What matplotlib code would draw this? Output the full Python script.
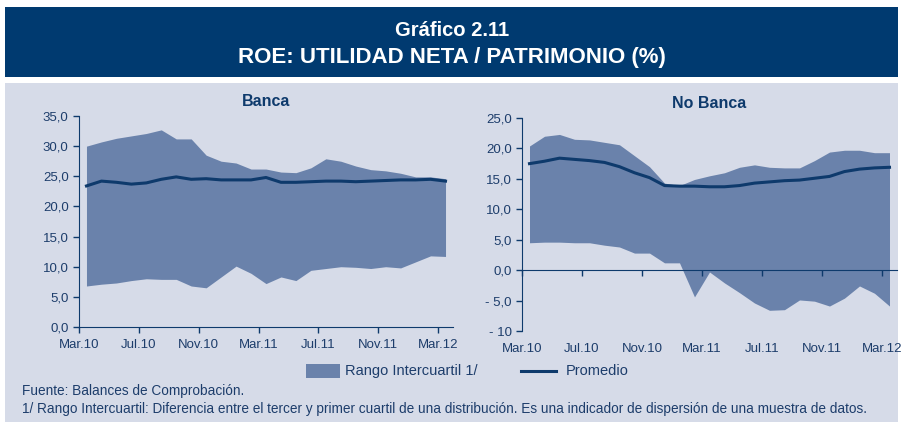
import matplotlib

matplotlib.use("Agg")
import matplotlib.pyplot as plt
from matplotlib.patches import Rectangle
from matplotlib.lines import Line2D
from matplotlib.transforms import ScaledTranslation
import numpy as np

plt.rcParams["font.family"] = ["Liberation Sans", "DejaVu Sans"]

NAVY = "#003a70"
LINE = "#0e3a6c"
FILL = "#6a82ab"
PANEL = "#d6dbe8"
TXT = "#1d3d6b"

XTICK_LABELS = ["Mar.10", "Jul.10", "Nov.10", "Mar.11", "Jul.11", "Nov.11", "Mar.12"]

# Banca (mar.10 - mar.12, mensual)
banca_q3 = [30.0, 30.7, 31.3, 31.7, 32.1, 32.7, 31.2, 31.2, 28.5, 27.5, 27.2, 26.2, 26.2,
            25.7, 25.6, 26.4, 27.9, 27.5, 26.7, 26.1, 25.9, 25.5, 24.9, 24.9, 24.6]
banca_q1 = [6.8, 7.1, 7.3, 7.7, 8.0, 7.9, 7.9, 6.8, 6.5, 8.3, 10.1, 8.9, 7.2,
            8.3, 7.7, 9.4, 9.7, 10.0, 9.9, 9.7, 10.0, 9.8, 10.8, 11.8, 11.7]
banca_prom = [23.4, 24.2, 24.0, 23.7, 23.9, 24.5, 24.9, 24.5, 24.6, 24.4, 24.4, 24.4, 24.8,
              24.0, 24.0, 24.1, 24.2, 24.2, 24.1, 24.2, 24.3, 24.4, 24.4, 24.5, 24.2]

# No Banca
nob_q3 = [20.4, 22.0, 22.3, 21.5, 21.4, 21.0, 20.6, 18.8, 17.0, 14.3, 13.9, 14.9, 15.5,
          16.0, 16.9, 17.3, 16.9, 16.8, 16.8, 18.0, 19.4, 19.7, 19.7, 19.3, 19.3]
nob_q1 = [4.5, 4.6, 4.6, 4.5, 4.5, 4.1, 3.8, 2.8, 2.8, 1.2, 1.2, -4.4, -0.3,
          -2.1, -3.7, -5.4, -6.6, -6.5, -4.9, -5.1, -5.9, -4.6, -2.6, -3.8, -5.9]
nob_prom = [17.5, 17.9, 18.4, 18.2, 18.0, 17.7, 17.0, 16.0, 15.2, 13.9, 13.8, 13.8, 13.7,
            13.7, 13.9, 14.3, 14.5, 14.7, 14.8, 15.1, 15.4, 16.2, 16.6, 16.8, 16.9]

W, H = 904, 422
fig = plt.figure(figsize=(W / 100, H / 100), dpi=100)
fig.patch.set_facecolor("white")


def box(x0, y0, x1, y1):
    """pixel coords (top-left origin) -> figure fraction rect"""
    return [x0 / W, 1 - y1 / H, (x1 - x0) / W, (y1 - y0) / H]


# banner + panel
fig.add_artist(Rectangle((5 / W, 1 - 77 / H), 893 / W, 70 / H, transform=fig.transFigure,
                         facecolor=NAVY, edgecolor="none", zorder=0))
fig.add_artist(Rectangle((5 / W, 0), 893 / W, 1 - 83 / H, transform=fig.transFigure,
                         facecolor=PANEL, edgecolor="none", zorder=0))
fig.text(452 / W, 1 - 30 / H, "Gráfico 2.11", color="white", fontsize=14.5, fontweight="bold",
         ha="center", va="center")
fig.text(452 / W, 1 - 57 / H, "ROE: UTILIDAD NETA / PATRIMONIO (%)", color="white", fontsize=16,
         fontweight="bold", ha="center", va="center")


def panel(rect, title, q3, q1, prom, ylim, yticks, yticklabels, zero_axis=False):
    ax = fig.add_axes(rect)
    ax.set_facecolor("none")
    x = np.arange(len(prom)) + 0.5
    ax.fill_between(x, q1, q3, color=FILL, linewidth=0, zorder=1)
    ax.plot(x, prom, color=LINE, linewidth=2.2, zorder=3)
    ax.set_xlim(0, 25)
    ax.set_ylim(*ylim)
    for s in ("top", "right"):
        ax.spines[s].set_visible(False)
    ax.spines["left"].set_color(LINE)
    ax.spines["bottom"].set_color(LINE)
    if zero_axis:
        ax.spines["bottom"].set_position(("data", 0))
    ax.set_xticks(np.arange(0, 25, 4))
    ax.set_xticklabels(XTICK_LABELS)
    ax.set_yticks(yticks)
    ax.set_yticklabels(yticklabels)
    ax.tick_params(colors=LINE, labelcolor=TXT, labelsize=9.5, length=4, width=1)
    ax.tick_params(axis="x", pad=5)
    if zero_axis:
        # labels stay at the bottom of the axes while the axis line sits at 0
        drop = (ax.transData.transform((0, 0))[1] - ax.transData.transform((0, ylim[0]))[1]) / 100
        for lab in ax.get_xticklabels():
            lab.set_transform(lab.get_transform() + ScaledTranslation(0, -drop, fig.dpi_scale_trans))
    ax.set_title(title, color=LINE, fontsize=11.5, fontweight="bold", pad=7)
    return ax


panel(box(79, 116, 453, 327), "Banca", banca_q3, banca_q1, banca_prom, (0, 35),
      np.arange(0, 36, 5), [f"{v:.1f}".replace(".", ",") for v in range(0, 36, 5)])
ylab = ["- 10", "- 5,0", "0,0", "5,0", "10,0", "15,0", "20,0", "25,0"]
panel(box(522, 118, 897, 331), "No Banca", nob_q3, nob_q1, nob_prom, (-10, 25),
      np.arange(-10, 26, 5), ylab, zero_axis=True)

# legend
fig.add_artist(Rectangle((306 / W, 1 - 378 / H), 34 / W, 14 / H, transform=fig.transFigure,
                         facecolor=FILL, edgecolor="none"))
fig.text(345 / W, 1 - 371 / H, "Rango Intercuartil 1/", color=TXT, fontsize=10.5, va="center")
fig.add_artist(Line2D([521 / W, 556 / W], [1 - 371 / H, 1 - 371 / H], transform=fig.transFigure,
                      color=LINE, linewidth=2.2))
fig.text(566 / W, 1 - 371 / H, "Promedio", color=TXT, fontsize=10.5, va="center")

fig.text(22 / W, 1 - 391 / H, "Fuente: Balances de Comprobación.", color=TXT, fontsize=9.8,
         va="center")
fig.text(22 / W, 1 - 409 / H,
         "1/ Rango Intercuartil: Diferencia entre el tercer y primer cuartil de una distribución. "
         "Es una indicador de dispersión de una muestra de datos.",
         color=TXT, fontsize=9.8, va="center")

fig.savefig("out.png", dpi=100, facecolor=fig.get_facecolor())
